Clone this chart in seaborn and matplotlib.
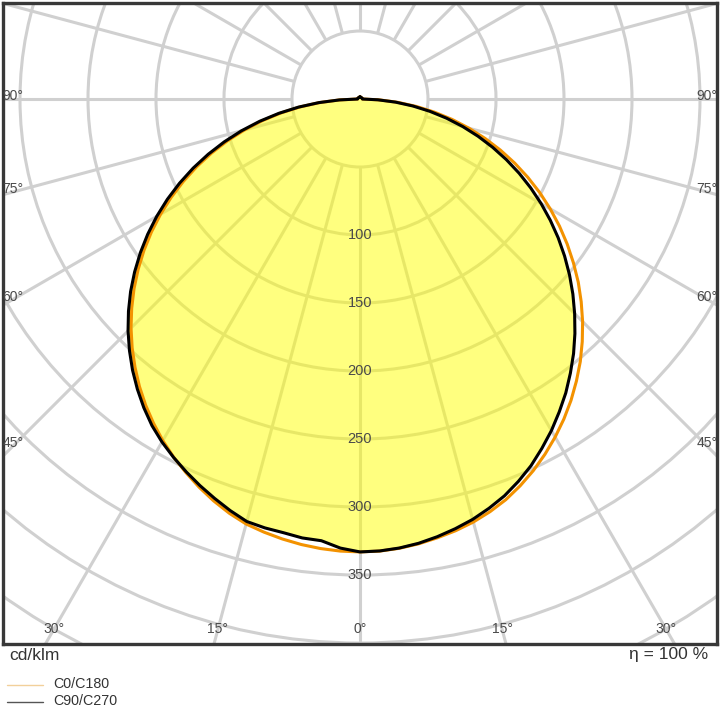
import numpy as np
import pandas as pd
import seaborn as sns
import matplotlib.pyplot as plt
from matplotlib.patches import Circle
from matplotlib.lines import Line2D

# luminous intensity (cd/klm) per gamma angle
gamma = [0, 2.5, 5, 7.5, 10, 12.5, 15, 17.5, 20, 22.5, 25, 27.5, 30, 32.5, 35, 37.5,
         40, 42.5, 45, 47.5, 50, 52.5, 55, 57.5, 60, 62.5, 65, 67.5, 70, 72.5, 75,
         77.5, 80, 82.5, 85, 87.5, 90, 105, 120, 135, 150, 165, 180]
c0 = [333, 332.7, 331.6, 329.9, 327.6, 325.1, 322.0, 318.1, 313.5, 307.8, 301.5, 294.5,
      287.0, 279.0, 270.5, 261.4, 252.0, 241.9, 231.5, 220.6, 209.5, 197.8, 186.0, 173.9,
      161.5, 149.0, 136.1, 123.1, 109.9, 96.5, 83.0, 69.4, 55.6, 41.8, 27.9, 14.0, 1.8,
      1.6, 1.5, 1.5, 1.5, 1.5, 1.5]
c180 = [333, 332.7, 331.8, 330.4, 328.5, 326.2, 323.5, 319.4, 314.5, 309.0, 303.0, 296.8,
        290.0, 282.6, 274.8, 266.4, 257.4, 248.0, 238.1, 227.7, 216.9, 205.6, 193.9, 181.8,
        169.3, 156.5, 143.3, 129.9, 116.2, 102.2, 88.0, 73.6, 59.1, 44.4, 29.6, 14.9, 1.8,
        1.6, 1.5, 1.5, 1.5, 1.5, 1.5]
c90 = [333, 332.6, 331.4, 329.5, 326.8, 323.6, 320.0, 315.5, 310.5, 304.3, 297.5, 289.6,
       281.5, 272.7, 263.8, 254.1, 244.3, 233.9, 223.2, 212.3, 201.1, 189.6, 177.9, 165.9,
       153.8, 141.5, 129.1, 116.5, 103.8, 91.0, 78.2, 65.2, 52.2, 39.2, 26.2, 13.1, 1.8,
       1.6, 1.5, 1.5, 1.5, 1.5, 1.5]
c270 = [333, 330.5, 326.0, 325.5, 323.8, 323.0, 321.6, 317.3, 312.5, 307.6, 302.4, 297.0,
        291.2, 284.7, 277.1, 268.9, 260.2, 250.9, 241.2, 230.9, 220.2, 208.9, 197.2, 185.1,
        172.6, 159.7, 146.4, 132.8, 118.8, 104.6, 90.2, 75.5, 60.6, 45.6, 30.4, 15.2, 1.8,
        1.6, 1.5, 1.5, 1.5, 1.5, 1.5]

ring_values = [50, 100, 150, 200, 250, 300, 350, 400, 450]
ring_labels = [100, 150, 200, 250, 300, 350]
spoke_angles = list(range(0, 360, 15))
bottom_labels = [0, 15, 30]
side_labels = [45, 60, 75, 90]

plane_names = ['C0/C180', 'C90/C270']
plane_colors = ['#f39200', '#000000']
grid_color = '#d0d0d0'
text_color = '#4a4a4a'


def loop_xy(left, right):
    g = np.radians(gamma)
    left = np.asarray(left)
    right = np.asarray(right)
    xl = (-left * np.sin(g))[::-1]
    yl = (-left * np.cos(g))[::-1]
    xr = (right * np.sin(g))[1:]
    yr = (-right * np.cos(g))[1:]
    return np.concatenate([xl, xr]), np.concatenate([yl, yr])


sns.set_style('white')
plt.rcParams['font.family'] = ['Liberation Sans', 'DejaVu Sans']

fig = plt.figure(figsize=(7.2, 7.2), dpi=100)
ax = fig.add_axes([3 / 720, 76 / 720, 714 / 720, 641 / 720])
ax.set_xlim(-262.5, 262.5)
ax.set_ylim(-400.7, 70.6)

# polar grid
for r in ring_values:
    ax.add_patch(Circle((0, 0), r, fill=False, ec=grid_color, lw=2.2, zorder=1))
for a in spoke_angles:
    t = np.radians(a)
    ax.plot([50 * np.sin(t), 700 * np.sin(t)], [-50 * np.cos(t), -700 * np.cos(t)],
            color=grid_color, lw=2.2, zorder=1, solid_capstyle='butt')

frames = []
for name, (left, right) in zip(plane_names, [(c180, c0), (c270, c90)]):
    x, y = loop_xy(left, right)
    frames.append(pd.DataFrame({'x': x, 'y': y, 'plane': name}))
df = pd.concat(frames, ignore_index=True)

fill = df[df.plane == 'C90/C270']
ax.fill(fill.x, fill.y, color='#ffff00', alpha=0.5, lw=0, zorder=2)

sns.lineplot(data=df, x='x', y='y', hue='plane', hue_order=plane_names,
             palette=plane_colors, sort=False, estimator=None, lw=2.2,
             legend=False, ax=ax, zorder=3)

for r in ring_labels:
    ax.text(0, -r, str(r), ha='center', va='center', fontsize=10.5, color=text_color, zorder=5)

yb = -389.7
for a in bottom_labels:
    off = -yb * np.tan(np.radians(a))
    for sgn in ([1] if a == 0 else [-1, 1]):
        ax.text(sgn * off, yb, f'{a}°', ha='center', va='center', fontsize=10,
                color=text_color, zorder=5)

xs = 255.1
for a in side_labels:
    ys = 0 if a == 90 else -xs / np.tan(np.radians(a))
    for sgn in [-1, 1]:
        ax.text(sgn * xs, ys + 2, f'{a}°', ha='center', va='center', fontsize=10,
                color=text_color, zorder=5)

ax.set_xticks([])
ax.set_yticks([])
ax.set_xlabel('')
ax.set_ylabel('')
for s in ax.spines.values():
    s.set_visible(True)
    s.set_color('#383838')
    s.set_linewidth(2.4)

fig.text(9 / 720, 1 - 655 / 720, 'cd/klm', ha='left', va='center', fontsize=12.5, color='#333333')
fig.text(708 / 720, 1 - 655 / 720, 'η = 100 %', ha='right', va='center', fontsize=12.5,
         color='#333333')

legend_colors = ['#f2d09a', '#555555']
for i, (name, col) in enumerate(zip(plane_names, legend_colors)):
    yy = 1 - (685 + 17 * i) / 720
    fig.add_artist(Line2D([7 / 720, 43 / 720], [yy, yy], color=col, lw=1))
    fig.text(53 / 720, yy + 1 / 720, name, ha='left', va='center', fontsize=10.3, color='#333333')

fig.savefig('out.png', dpi=100)
